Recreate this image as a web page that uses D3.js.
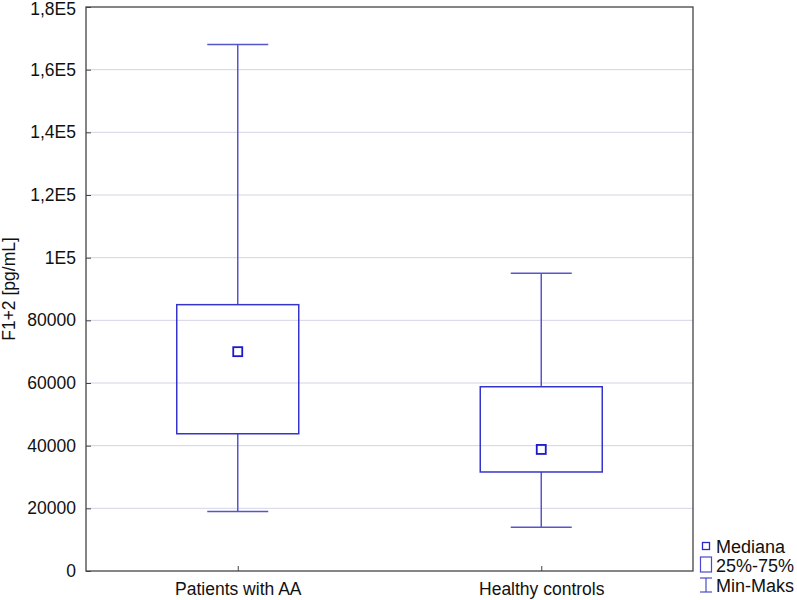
<!DOCTYPE html>
<html><head><meta charset="utf-8">
<script src="https://cdn.jsdelivr.net/npm/d3@7"></script>
<style>body{margin:0;background:#fff}svg{display:block}text{font-family:"Liberation Sans",Arial,sans-serif}</style>
</head><body><svg id="c" width="797" height="600"></svg>
<script>
const categories = ["Patients with AA", "Healthy controls"];
const minVals = [19000, 14000];
const q1Vals = [43800, 31600];
const medianVals = [70000, 38800];
const q3Vals = [85000, 58800];
const maxVals = [168000, 95000];
const yTicks = [0, 20000, 40000, 60000, 80000, 100000, 120000, 140000, 160000, 180000];
const yTickLabels = ["0", "20000", "40000", "60000", "80000", "1E5", "1,2E5", "1,4E5", "1,6E5", "1,8E5"];
const legendLabels = ["Mediana", "25%-75%", "Min-Maks"];

const FS = 17.5;
const svg = d3.select("#c");
const L = 86, R = 693, T = 7, B = 571;
const y = d3.scaleLinear().domain([0, 180000]).range([B, T]);
const x = d3.scalePoint().domain(categories).range([L, R]).padding(0.5);

// gridlines
svg.append("g").selectAll("line").data(yTicks.slice(1, -1)).join("line")
  .attr("x1", L).attr("x2", R).attr("y1", d => y(d)).attr("y2", d => y(d))
  .attr("stroke", "#d4d4e6").attr("stroke-width", 1);

// y axis
const yAxis = d3.axisLeft(y).tickValues(yTicks).tickSize(-5).tickPadding(10)
  .tickFormat((d, i) => yTickLabels[i]);
const gy = svg.append("g").attr("transform", `translate(${L},0)`).call(yAxis);
gy.attr("font-size", FS).attr("font-family", null);
gy.select(".domain").remove();
gy.selectAll(".tick line").attr("stroke", "#444");
gy.selectAll("text").style("font-size", FS + "px").attr("fill", "#111");
gy.selectAll(".tick").filter(d => d === 180000).select("text").attr("y", 1.5);

// x axis
const xAxis = d3.axisBottom(x).tickSize(-5).tickPadding(12);
const gx = svg.append("g").attr("transform", `translate(0,${B})`).call(xAxis);
gx.attr("font-size", FS).attr("font-family", null);
gx.select(".domain").remove();
gx.selectAll(".tick line").attr("stroke", "#444");
gx.selectAll("text").style("font-size", FS + "px").attr("fill", "#111");

// frame
svg.append("rect").attr("x", L).attr("y", T).attr("width", R - L).attr("height", B - T)
  .attr("fill", "none").attr("stroke", "#444").attr("stroke-width", 1.3);

// y label
svg.append("text").attr("transform", `translate(15,${(T + B) / 2}) rotate(-90)`)
  .attr("text-anchor", "middle").style("font-size", FS + "px").attr("fill", "#111").text("F1+2 [pg/mL]");

const boxW = 122, capW = 61;
const g = svg.append("g");
categories.forEach((c, i) => {
  const cx = x(c);
  const wc = "#5656cc", bc = "#3535cc";
  g.append("line").attr("x1", cx).attr("x2", cx).attr("y1", y(maxVals[i])).attr("y2", y(q3Vals[i])).attr("stroke", wc).attr("stroke-width", 1.5);
  g.append("line").attr("x1", cx).attr("x2", cx).attr("y1", y(q1Vals[i])).attr("y2", y(minVals[i])).attr("stroke", wc).attr("stroke-width", 1.5);
  g.append("line").attr("x1", cx - capW / 2).attr("x2", cx + capW / 2).attr("y1", y(maxVals[i])).attr("y2", y(maxVals[i])).attr("stroke", wc).attr("stroke-width", 1.5);
  g.append("line").attr("x1", cx - capW / 2).attr("x2", cx + capW / 2).attr("y1", y(minVals[i])).attr("y2", y(minVals[i])).attr("stroke", wc).attr("stroke-width", 1.5);
  g.append("rect").attr("x", cx - boxW / 2).attr("y", y(q3Vals[i])).attr("width", boxW)
    .attr("height", y(q1Vals[i]) - y(q3Vals[i])).attr("fill", "none").attr("stroke", bc).attr("stroke-width", 1.5);
  g.append("rect").attr("x", cx - 4.5).attr("y", y(medianVals[i]) - 4.5).attr("width", 9).attr("height", 9)
    .attr("fill", "none").attr("stroke", "#1a1acc").attr("stroke-width", 1.8);
});

// legend
const lg = svg.append("g");
lg.append("rect").attr("x", 702.5).attr("y", 542.5).attr("width", 7).attr("height", 7).attr("fill", "none").attr("stroke", "#2a2acc").attr("stroke-width", 1.3);
lg.append("rect").attr("x", 700.5).attr("y", 557).attr("width", 11).attr("height", 15).attr("fill", "none").attr("stroke", "#4a4acc").attr("stroke-width", 1.2);
lg.append("line").attr("x1", 706).attr("x2", 706).attr("y1", 578).attr("y2", 592).attr("stroke", "#4a4acc").attr("stroke-width", 1.2);
lg.append("line").attr("x1", 700).attr("x2", 712).attr("y1", 578).attr("y2", 578).attr("stroke", "#4a4acc").attr("stroke-width", 1.2);
lg.append("line").attr("x1", 700).attr("x2", 712).attr("y1", 592).attr("y2", 592).attr("stroke", "#4a4acc").attr("stroke-width", 1.2);
const ly = [553, 572, 592];
legendLabels.forEach((t, i) => {
  lg.append("text").attr("x", 716).attr("y", ly[i]).style("font-size", "18px").attr("fill", "#111").text(t);
});
</script></body></html>
